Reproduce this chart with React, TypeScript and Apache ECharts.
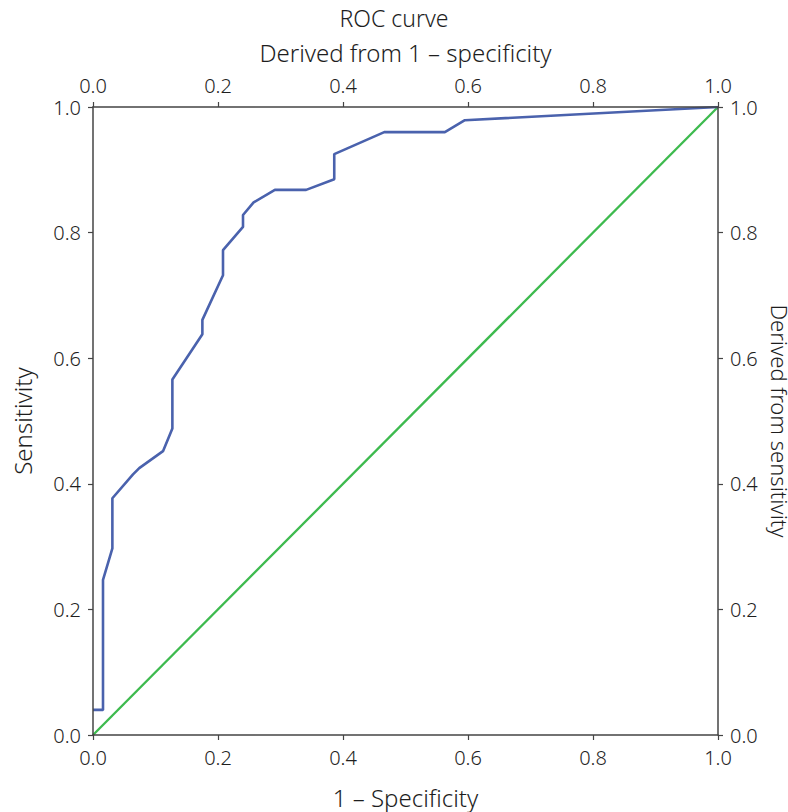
import React, { useEffect, useRef } from "react";
import * as echarts from "echarts";

const titleText = "ROC curve";
const topAxisName = "Derived from 1 – specificity";
const bottomAxisName = "1 – Specificity";
const leftAxisName = "Sensitivity";
const rightAxisName = "Derived from sensitivity";

// ROC curve points: 1 - specificity (x) and sensitivity (y)
const fpr = [0, 0.016, 0.016, 0.031, 0.031, 0.064, 0.074, 0.112, 0.127, 0.127, 0.175, 0.175, 0.208, 0.208, 0.240, 0.240, 0.257, 0.291, 0.341, 0.386, 0.386, 0.466, 0.563, 0.595, 1.0];
const tpr = [0.04, 0.04, 0.247, 0.297, 0.377, 0.415, 0.425, 0.452, 0.488, 0.566, 0.638, 0.661, 0.732, 0.772, 0.809, 0.828, 0.848, 0.868, 0.868, 0.885, 0.925, 0.960, 0.960, 0.979, 1.0];

// Reference diagonal
const diagX = [0, 1];
const diagY = [0, 1];

const FONT = "'Noto Sans', 'Open Sans', sans-serif";
const AXIS_COLOR = "#444444";
const TEXT_COLOR = "#1e1e1e";

export default function App() {
  const ref = useRef<HTMLDivElement>(null);
  useEffect(() => {
    if (!ref.current) return;
    const chart = echarts.init(ref.current, undefined, { renderer: "svg" });
    const axisCommon = {
      type: "value" as const,
      min: 0,
      max: 1,
      interval: 0.2,
      splitLine: { show: false },
      axisLine: { show: true, onZero: false, lineStyle: { color: AXIS_COLOR, width: 1.5 } },
      axisTick: { show: true, inside: false, length: 5, lineStyle: { color: AXIS_COLOR, width: 1.2 } },
      axisLabel: {
        color: TEXT_COLOR,
        fontFamily: FONT,
        fontSize: 20,
        fontWeight: 300 as any,
        margin: 12,
        formatter: (v: number) => v.toFixed(1),
      },
      nameLocation: "middle" as const,
      nameTextStyle: { color: TEXT_COLOR, fontFamily: FONT, fontSize: 24, fontWeight: 300 as any },
      z: 5,
    };
    chart.setOption({
      animation: false,
      backgroundColor: "#ffffff",
      title: {
        text: titleText,
        left: "center",
        top: 1,
        textStyle: { color: TEXT_COLOR, fontFamily: FONT, fontSize: 23, fontWeight: 300 as any },
      },
      grid: { left: 93, right: 70, top: 107, bottom: 77, containLabel: false, outerBoundsMode: "none" },
      xAxis: [
        { ...axisCommon, position: "bottom", name: bottomAxisName, nameGap: 50 },
        { ...axisCommon, position: "top", name: topAxisName, nameGap: 43 },
      ],
      yAxis: [
        { ...axisCommon, position: "left", name: leftAxisName, nameGap: 59, nameRotate: 90 },
        {
          ...axisCommon,
          position: "right",
          name: rightAxisName,
          nameGap: 40,
          nameRotate: -90,
          nameTextStyle: { ...axisCommon.nameTextStyle, fontSize: 22 },
        },
      ],
      series: [
        {
          type: "line",
          data: diagX.map((x, i) => [x, diagY[i]]),
          showSymbol: false,
          symbol: "none",
          lineStyle: { color: "#3dba4e", width: 2.3 },
          z: 2,
        },
        {
          type: "line",
          data: fpr.map((x, i) => [x, tpr[i]]),
          showSymbol: false,
          symbol: "none",
          lineStyle: { color: "#4a62ad", width: 2.6 },
          z: 3,
        },
      ],
    });
    return () => chart.dispose();
  }, []);
  return <div ref={ref} style={{ width: 788, height: 812, position: "absolute", left: 0, top: 0 }} />;
}
